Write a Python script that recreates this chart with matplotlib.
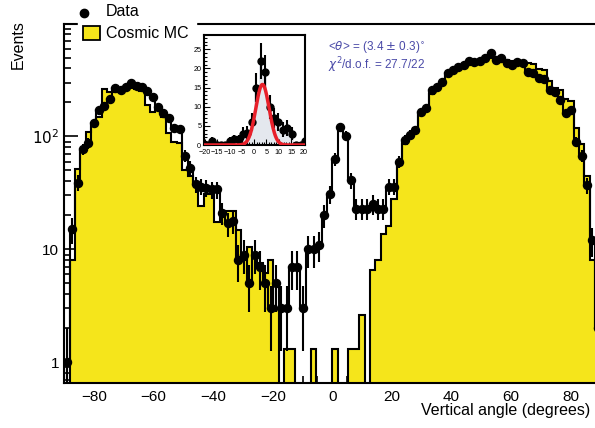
import numpy as np
import matplotlib
matplotlib.use("Agg")
from matplotlib import pyplot as plt
from matplotlib.ticker import FixedLocator, MultipleLocator, NullFormatter
from matplotlib.patches import Rectangle

plt.rcParams["font.family"] = ["Liberation Sans", "DejaVu Sans"]

# 100 bins of 1.8 degrees from -90 to 90
edges = np.linspace(-90, 90, 101)
centers = 0.5 * (edges[:-1] + edges[1:])

data = np.array([
    1, 15, 39, 77, 87, 131, 171, 185, 214, 267,
    258, 273, 296, 279, 273, 251, 223, 182, 161, 145,
    118, 116, 67, 53, 38, 36, 35, 34, 34, 21,
    17, 18, 8, 9, 5, 9, 7, 5, 3, 5,
    3, 3, 7, 7, 3, 10, 10, 11, 20, 31,
    63, 121, 101, 41, 23, 23, 23, 25, 23, 23,
    36, 36, 60, 93, 103, 114, 165, 177, 257, 275,
    304, 361, 386, 408, 428, 467, 457, 467, 500, 543,
    473, 500, 443, 428, 457, 443, 373, 363, 327, 321,
    257, 248, 210, 161, 171, 90, 67, 37, 12, 2,
], dtype=float)

cosmic_mc = np.array([
    0, 8, 52, 75, 110, 125, 150, 265, 250, 250,
    265, 265, 270, 265, 255, 190, 165, 170, 150, 107,
    90, 87, 50, 45, 38, 24, 31, 31, 17.5, 22,
    22, 22, 14.8, 8, 10.5, 8.5, 7.5, 6.2, 8, 3,
    0, 1.3, 1.3, 0, 0, 0, 1.3, 0, 0, 0,
    1.3, 0, 0, 1.3, 1.3, 2.6, 0, 6.6, 8, 13.6,
    16, 28, 56, 85, 100, 118, 160, 175, 240, 265,
    295, 340, 375, 400, 425, 445, 460, 470, 480, 500,
    495, 485, 480, 470, 460, 455, 450, 440, 395, 385,
    310, 270, 260, 215, 205, 120, 85, 45, 8, 2,
])

# inset: background-subtracted central region
inset_edges = np.linspace(-21.6, 21.6, 25)
inset_centers = 0.5 * (inset_edges[:-1] + inset_edges[1:])
inset_data = np.array([0, 0, 1, 0, 0, 0, 1, 1.5, 1.5, 3, 3.2, 6,
                       15, 22, 19, 10, 7, 6, 4, 4.5, 3, 0, 0, 1])
fit_mean, fit_sigma, fit_amp = 3.4, 2.7, 15.8

W, H = 595, 428
fig = plt.figure(figsize=(W / 100, H / 100), dpi=100)

def px_axes(l, t, r, b):
    return fig.add_axes([l / W, 1 - b / H, (r - l) / W, (b - t) / H])

ax = px_axes(64.2, 24, 600.5, 383.3)
yellow = "#f5e51b"

ax.stairs(data, edges, baseline=1e-3, fill=True, color="white", zorder=1)
ax.stairs(cosmic_mc, edges, baseline=1e-3, fill=True, color=yellow, zorder=2)
ax.stairs(cosmic_mc, edges, baseline=1e-3, color="black", lw=1.5, zorder=3)
ax.stairs(data, edges, baseline=1e-3, color="black", lw=1.5, zorder=3)
err = np.sqrt(data)
ax.errorbar(centers, data, yerr=[np.minimum(err, data - 1e-3), err], fmt="o",
            color="black", ms=5.8, elinewidth=1.5, capsize=0, zorder=4)

ax.set_yscale("log")
ax.set_xlim(-90, 90)
ax.set_ylim(0.652, 990)
ax.xaxis.set_major_locator(MultipleLocator(20))
ax.xaxis.set_minor_locator(MultipleLocator(5))
ax.yaxis.set_major_locator(FixedLocator([1, 10, 100]))
ax.set_yticklabels(["1", "10", "$10^2$"])
ax.yaxis.set_minor_locator(FixedLocator(
    [m * 10 ** e for e in range(-1, 3) for m in range(2, 10)]))
ax.yaxis.set_minor_formatter(NullFormatter())
ax.tick_params(which="both", direction="in", top=False, right=False,
               labelsize=11, width=1.2)
ax.tick_params(which="major", length=10)
ax.tick_params(which="minor", length=5)
ax.tick_params(axis="x", pad=5)
for s in ax.spines.values():
    s.set_linewidth(1.5)

fig.text(18 / W, 1 - 20 / H, "Events", rotation=90, ha="center", va="top",
         fontsize=11.5)
fig.text(590 / W, 1 - 411 / H, "Vertical angle (degrees)", ha="right",
         va="center", fontsize=11.5)

# legend
fig.patches.append(Rectangle((78 / W, 1 - 45 / H), 118 / W, 45 / H,
                             transform=fig.transFigure, color="white", zorder=5))
fig.lines.append(plt.Line2D([84 / W], [1 - 13 / H], marker="o", color="black",
                            ms=6, transform=fig.transFigure, zorder=6))
fig.patches.append(Rectangle((83 / W, 1 - 40 / H), 17 / W, 14 / H,
                             transform=fig.transFigure, facecolor=yellow,
                             edgecolor="black", lw=1.3, zorder=6))
fig.text(106 / W, 1 - 12 / H, "Data", ha="left", va="center", fontsize=11.5,
         zorder=7)
fig.text(106 / W, 1 - 33 / H, "Cosmic MC", ha="left", va="center",
         fontsize=11.5, zorder=7)

blue = "#4a4aa8"
fig.text(328 / W, 1 - 48 / H, r"<$\theta$> = (3.4 $\pm$ 0.3)$^{\circ}$",
         ha="left", va="center", fontsize=8.5, color=blue)
fig.text(328 / W, 1 - 65 / H, r"$\chi^{2}$/d.o.f. = 27.7/22", ha="left",
         va="center", fontsize=8.5, color=blue)

# inset
axi = px_axes(204, 35, 305, 145)
axi.stairs(inset_data, inset_edges, fill=True, color="#e4e8ee", zorder=1)
axi.errorbar(inset_centers, inset_data, yerr=np.sqrt(inset_data), fmt="o",
             color="black", ms=5, elinewidth=1.5, capsize=0, zorder=3)
xf = np.linspace(-21, 21, 400)
axi.plot(xf, fit_amp * np.exp(-0.5 * ((xf - fit_mean) / fit_sigma) ** 2),
         color="#e8202a", lw=2.5, zorder=4)
axi.set_xlim(-20.4, 20.7)
axi.set_ylim(0, 28.7)
axi.xaxis.set_major_locator(MultipleLocator(5))
axi.yaxis.set_major_locator(MultipleLocator(5))
axi.yaxis.set_minor_locator(MultipleLocator(1))
axi.xaxis.set_minor_locator(MultipleLocator(1))
axi.tick_params(which="both", direction="in", labelsize=5.2, width=0.8)
axi.tick_params(axis="x", pad=2.8)
axi.tick_params(axis="y", pad=2)
axi.tick_params(which="major", length=4)
axi.tick_params(which="minor", length=2)
for s in axi.spines.values():
    s.set_linewidth(1.5)

fig.savefig("out.png", dpi=100)
